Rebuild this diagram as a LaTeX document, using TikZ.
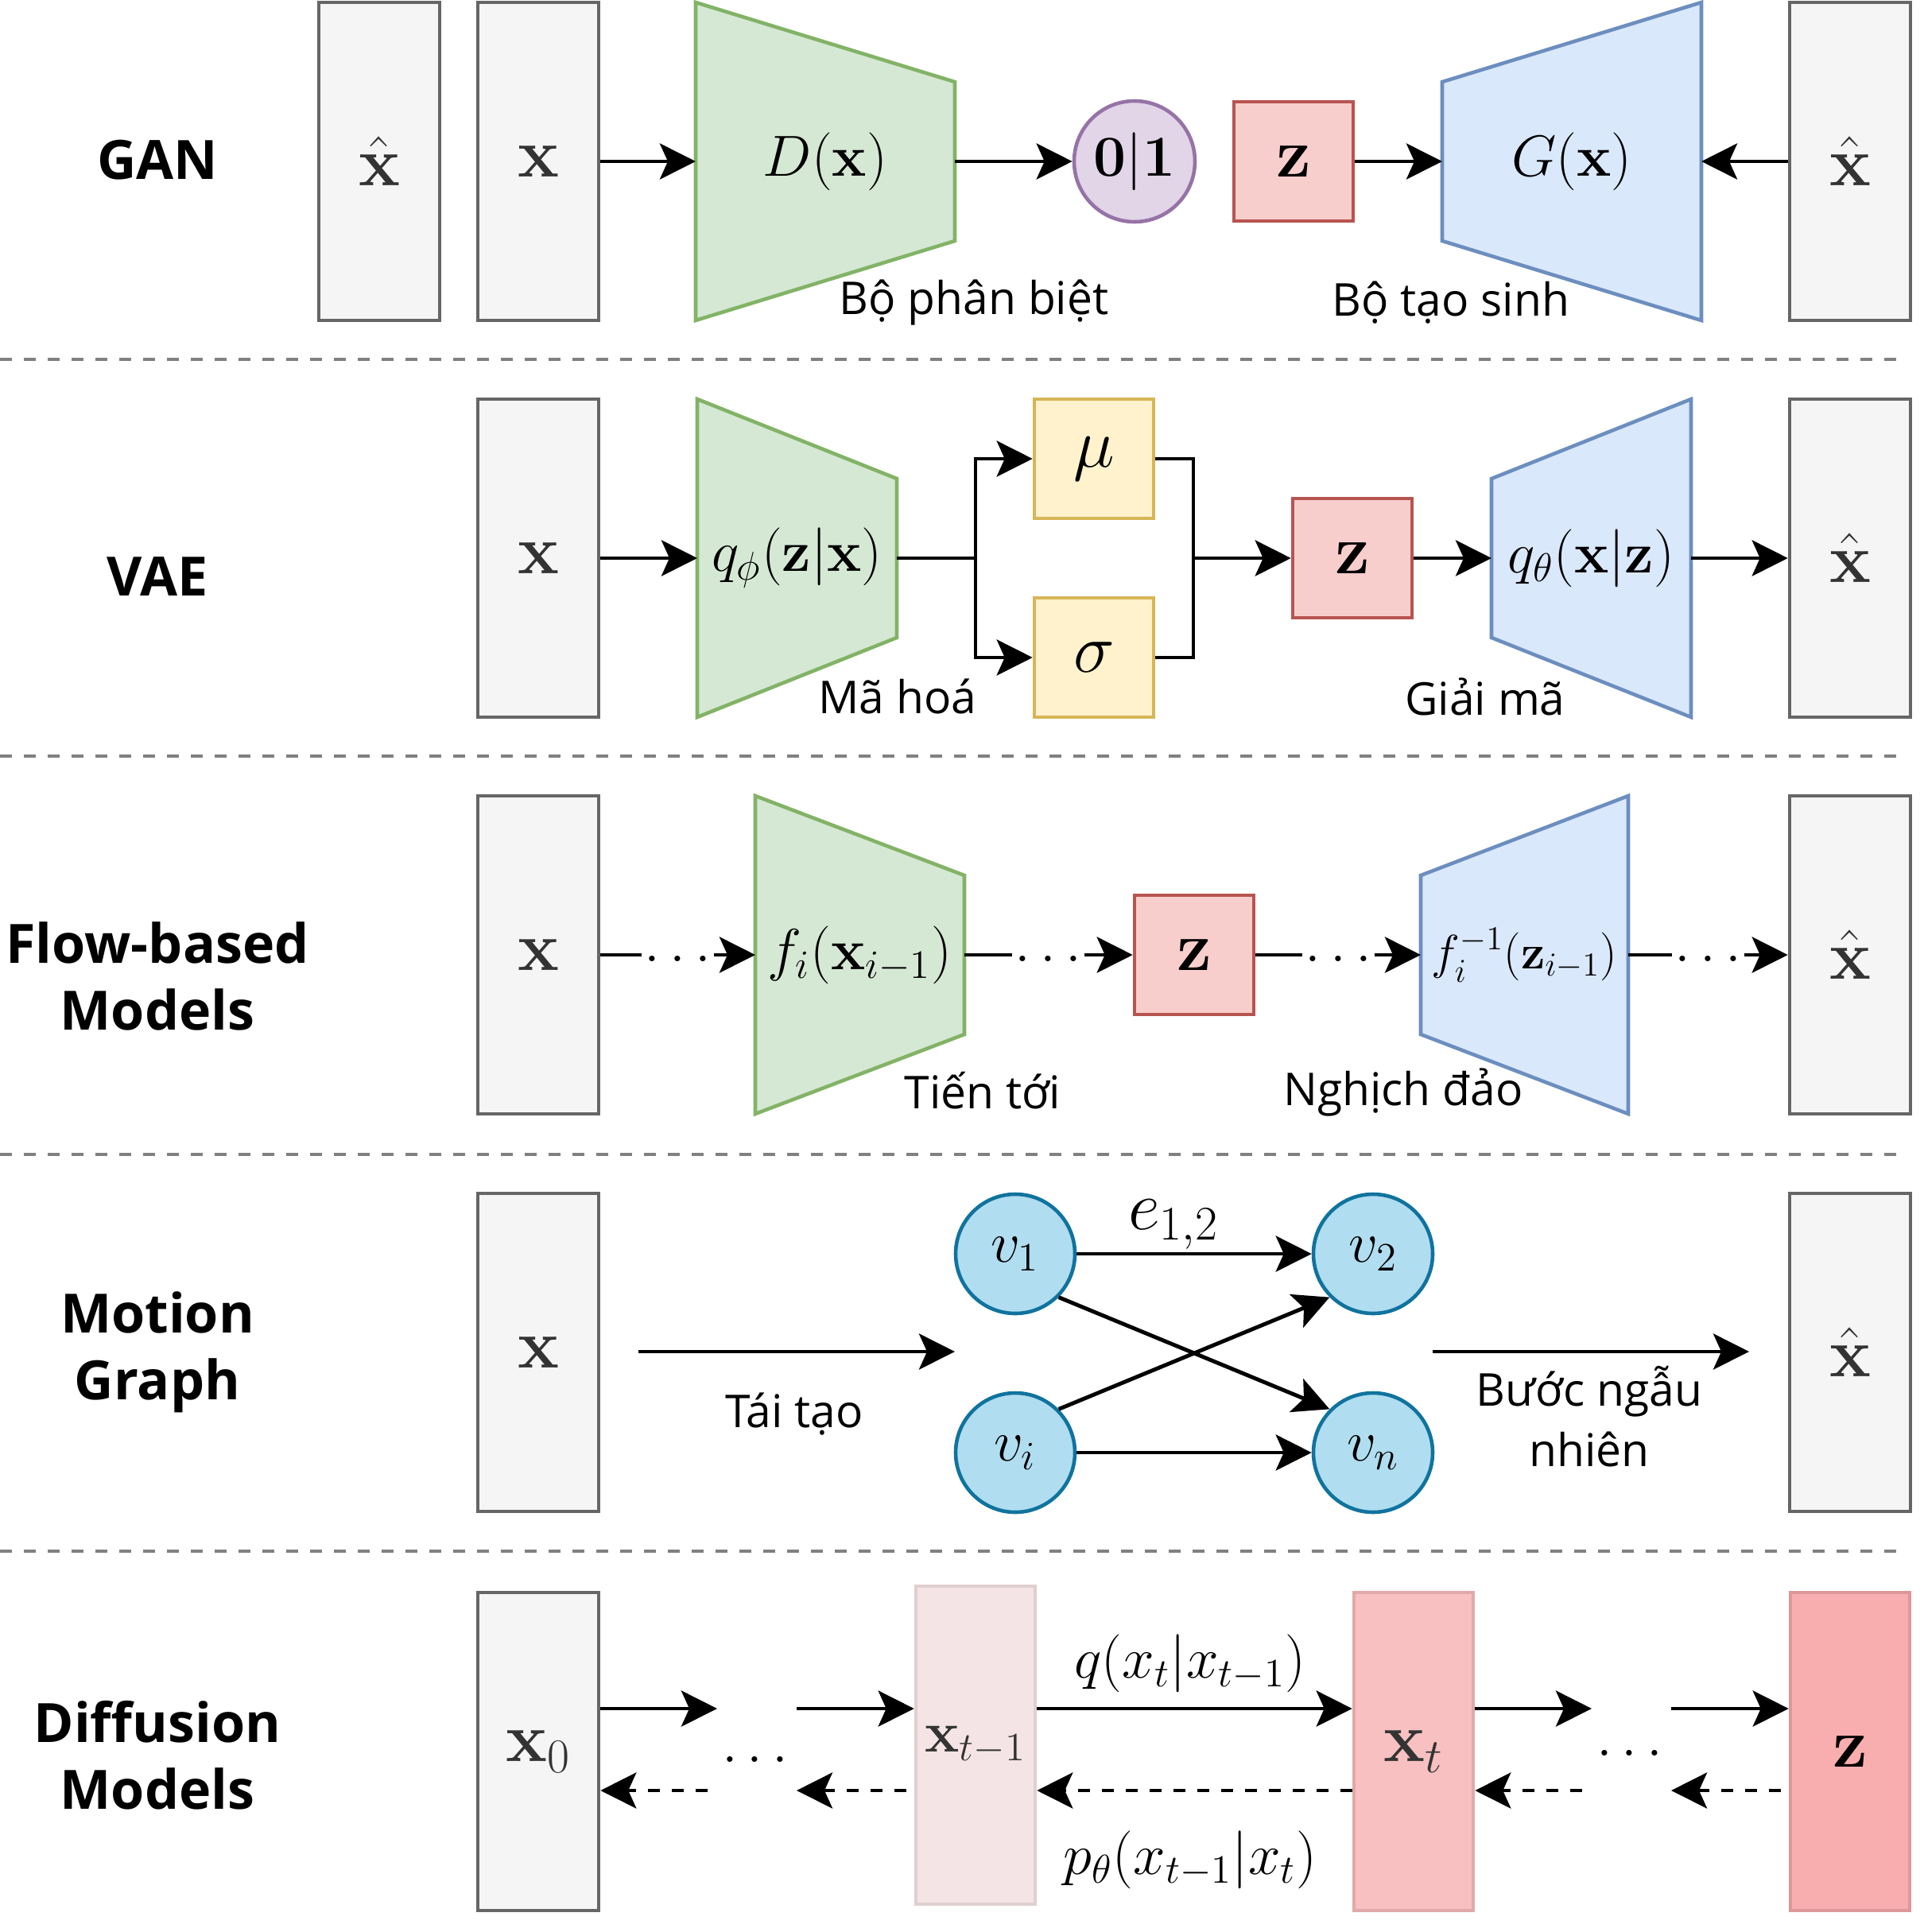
\documentclass[tikz,border=0pt]{standalone}
\usepackage{amsmath}
\usepackage[no-math]{fontspec}
\newfontfamily\labelsans{Open Sans}
\usepackage{tikz}
\usetikzlibrary{arrows.meta,positioning,calc,backgrounds}
\usepackage{xcolor}
\definecolor{grayFill}{HTML}{F5F5F5}
\definecolor{grayLine}{HTML}{666666}
\definecolor{grayText}{HTML}{333333}
\definecolor{encFill}{HTML}{D5E8D4}
\definecolor{encLine}{HTML}{82B366}
\definecolor{decFill}{HTML}{DAE8FC}
\definecolor{decLine}{HTML}{6C8EBF}
\definecolor{latFill}{HTML}{F8CECC}
\definecolor{latLine}{HTML}{B85450}
\definecolor{scoreFill}{HTML}{E1D5E7}
\definecolor{scoreLine}{HTML}{9673A6}
\definecolor{parFill}{HTML}{FFF2CC}
\definecolor{parLine}{HTML}{D6B656}
\definecolor{vertFill}{HTML}{B1DDF0}
\definecolor{vertLine}{HTML}{10739E}
\definecolor{stepAFill}{HTML}{F5E4E5}
\definecolor{stepALine}{HTML}{E0CFD1}
\definecolor{stepBFill}{HTML}{F8C0C0}
\definecolor{stepBLine}{HTML}{E0A9AA}
\definecolor{stepCFill}{HTML}{F8AEAE}
\definecolor{stepCLine}{HTML}{DC9899}
\definecolor{sepGray}{HTML}{808080}

\tikzset{
    % boxes and shapes
    databox/.style={rectangle, draw=grayLine, fill=grayFill, line width=1.3pt, minimum width=1.52cm, minimum height=4cm, inner sep=0pt, text=grayText, font=\fontsize{23.5}{28}\selectfont},
    stepbox/.style={rectangle, line width=1.3pt, minimum width=1.5cm, minimum height=4cm, inner sep=0pt, text=grayText, font=\fontsize{21}{25}\selectfont},
    latent/.style={rectangle, draw=latLine, fill=latFill, line width=1.3pt, minimum width=1.5cm, minimum height=1.5cm, inner sep=0pt, font=\fontsize{24}{28}\selectfont},
    param/.style={rectangle, draw=parLine, fill=parFill, line width=1.3pt, minimum width=1.5cm, minimum height=1.5cm, inner sep=0pt, font=\fontsize{26}{30}\selectfont},
    scorenode/.style={circle, draw=scoreLine, fill=scoreFill, line width=1.3pt, minimum size=1.52cm, inner sep=0pt, font=\fontsize{22.5}{26}\selectfont},
    vertex/.style={circle, draw=vertLine, fill=vertFill, line width=1.3pt, minimum size=1.5cm, inner sep=0pt, font=\fontsize{21.8}{26}\selectfont},
    trapnode/.style={rectangle, inner sep=0pt, outer sep=0pt, minimum height=4cm, font=\fontsize{22}{26}\selectfont},
    encshape/.style={fill=encFill, draw=encLine, line width=1.3pt},
    decshape/.style={fill=decFill, draw=decLine, line width=1.3pt},
    % texts
    rowlabel/.style={align=center, font=\labelsans\bfseries\fontsize{19.4}{24}\selectfont},
    sublabel/.style={align=center, font=\labelsans\fontsize{16.2}{21.6}\selectfont},
    mathlabel/.style={font=\fontsize{20}{24}\selectfont},
    % lines
    arrow/.style={-{Stealth[length=0.45cm, width=0.45cm, inset=0.1cm]}, line width=1.4pt},
    backarrow/.style={arrow, dash pattern=on 0.15cm off 0.15cm},
    sepline/.style={draw=sepGray, line width=1.4pt, dash pattern=on 0.15cm off 0.15cm}
}

\begin{document}
\begin{tikzpicture}[
    dotlbl/.style={midway, fill=white, inner sep=1pt, minimum height=0.3cm, yshift=-0.05cm, font=\fontsize{20}{24}\selectfont},
    dotnode/.style={inner sep=1pt, font=\fontsize{20}{24}\selectfont}
]
    \useasboundingbox (0,0) rectangle (24.2,-24.3);

    % GAN
    \node[rowlabel] (ganlbl) at (1.98,-2.01) {GAN};
    \node[databox] (ganfake) at (4.77,-2.03) {$\hat{\mathbf{x}}$};
    \node[databox] (ganx) at (6.77,-2.03) {$\mathbf{x}$};
    \node[trapnode, minimum width=3.26cm] (disc) at (10.38,-2.03) {$D(\mathbf{x})$};
    \node[scorenode] (score) at (14.27,-2.03) {$\mathbf{0}|\mathbf{1}$};
    \node[latent] (ganz) at (16.27,-2.03) {$\mathbf{z}$};
    \node[trapnode, minimum width=3.26cm] (gen) at (19.77,-2.03) {$G(\mathbf{x})$};
    \node[databox] (ganxhat) at (23.27,-2.03) {$\hat{\mathbf{x}}$};
    \node[sublabel] (disclbl) at (12.25,-3.81) {Bộ phân biệt};
    \node[sublabel] (genlbl) at (18.25,-3.81) {Bộ tạo sinh};

    \draw[arrow] (ganx) -- (disc);
    \draw[arrow] (disc) -- (score);
    \draw[arrow] (ganz) -- (gen);
    \draw[arrow] (ganxhat) -- (gen);

    \draw[sepline] (0,-4.52) -- (23.92,-4.52);

    % VAE
    \node[rowlabel] (vaelbl) at (1.98,-7.25) {VAE};
    \node[databox] (vaex) at (6.77,-7.02) {$\mathbf{x}$};
    \node[trapnode, minimum width=2.51cm] (enc) at (10.025,-7.02) {$q_\phi(\mathbf{z}|\mathbf{x})$};
    \node[param] (mu) at (13.76,-5.77) {$\mu$};
    \node[param] (sigma) at (13.76,-8.27) {$\sigma$};
    \node[latent] (vaez) at (17.01,-7.02) {$\mathbf{z}$};
    \node[trapnode, minimum width=2.51cm] (dec) at (20.015,-7.02) {$q_\theta(\mathbf{x}|\mathbf{z})$};
    \node[databox] (vaexhat) at (23.27,-7.02) {$\hat{\mathbf{x}}$};
    \node[sublabel] (enclbl) at (11.29,-8.76) {Mã hoá};
    \node[sublabel] (declbl) at (18.68,-8.76) {Giải mã};
    \coordinate (fork) at (12.27,-7.02);
    \coordinate (merge) at (15.01,-7.02);

    \draw[arrow] (vaex) -- (enc);
    \draw[line width=1.4pt] (enc) -- (fork);
    \draw[arrow] (fork) |- (mu);
    \draw[arrow] (fork) |- (sigma);
    \draw[line width=1.4pt] (mu) -| (merge);
    \draw[line width=1.4pt] (sigma) -| (merge);
    \draw[arrow] (merge) -- (vaez);
    \draw[arrow] (vaez) -- (dec);
    \draw[arrow] (dec) -- (vaexhat);

    \draw[sepline] (0,-9.51) -- (23.92,-9.51);

    % Flow-based models
    \node[rowlabel] (flowlbl) at (1.98,-12.28) {Flow-based\\Models};
    \node[databox] (flowx) at (6.77,-12.01) {$\mathbf{x}$};
    \node[trapnode, minimum width=2.63cm, font=\fontsize{21.2}{25}\selectfont] (fwd) at (10.815,-12.01) {$f_i(\mathbf{x}_{i-1})$};
    \node[latent] (flowz) at (15.02,-12.01) {$\mathbf{z}$};
    \node[trapnode, minimum width=2.61cm, font=\fontsize{16.5}{20}\selectfont] (inv) at (19.175,-12.01) {$f_i^{-1}(\mathbf{z}_{i-1})$};
    \node[databox] (flowxhat) at (23.27,-12.01) {$\hat{\mathbf{x}}$};
    \node[sublabel] (fwdlbl) at (12.36,-13.72) {Tiến tới};
    \node[sublabel] (invlbl) at (17.65,-13.74) {Nghịch đảo};

    \draw[arrow] (flowx) -- node[dotlbl] {$\ldotp\ldotp\ldotp$} (fwd);
    \draw[arrow] (fwd) -- node[dotlbl] {$\ldotp\ldotp\ldotp$} (flowz);
    \draw[arrow] (flowz) -- node[dotlbl] {$\ldotp\ldotp\ldotp$} (inv);
    \draw[arrow] (inv) -- node[dotlbl] {$\ldotp\ldotp\ldotp$} (flowxhat);

    \draw[sepline] (0,-14.52) -- (23.92,-14.52);

    % Motion graph
    \node[rowlabel] (motlbl) at (1.98,-17.01) {Motion\\Graph};
    \node[databox] (motx) at (6.77,-17.01) {$\mathbf{x}$};
    \node[vertex] (v1) at (12.77,-15.77) {$v_1$};
    \node[vertex] (v2) at (17.27,-15.77) {$v_2$};
    \node[vertex] (vi) at (12.77,-18.27) {$v_i$};
    \node[vertex] (vn) at (17.27,-18.27) {$v_n$};
    \node[databox] (motxhat) at (23.27,-17.01) {$\hat{\mathbf{x}}$};
    \node[font=\fontsize{25}{29}\selectfont] (e12) at (14.76,-15.40) {$e_{1,2}$};
    \node[sublabel] (reclbl) at (9.99,-17.79) {Tái tạo};
    \node[sublabel] (walklbl) at (19.99,-17.82) {Bước ngẫu\\nhiên};
    \coordinate (recin) at (8.03,-17.00);
    \coordinate (recout) at (12.01,-17.00);
    \coordinate (walkin) at (18.02,-17.00);
    \coordinate (walkout) at (22.00,-17.00);

    \draw[arrow] (recin) -- (recout);
    \draw[arrow] (v1) -- (v2);
    \draw[arrow] (v1.south east) -- (vn.north west);
    \draw[arrow] (vi.north east) -- (v2.south west);
    \draw[arrow] (vi) -- (vn);
    \draw[arrow] (walkin) -- (walkout);

    \draw[sepline] (0,-19.51) -- (23.92,-19.51);

    % Diffusion models
    \node[rowlabel] (difflbl) at (1.98,-22.08) {Diffusion\\Models};
    \node[databox] (x0) at (6.77,-22.03) {$\mathbf{x}_0$};
    \node[stepbox, draw=stepALine, fill=stepAFill] (xprev) at (12.27,-21.95) {$\mathbf{x}_{t-1}$};
    \node[stepbox, draw=stepBLine, fill=stepBFill, font=\fontsize{25}{29}\selectfont] (xt) at (17.78,-22.03) {$\mathbf{x}_t$};
    \node[stepbox, draw=stepCLine, fill=stepCFill, text=black, font=\fontsize{23}{27}\selectfont] (dz) at (23.27,-22.03) {$\mathbf{z}$};
    \node[dotnode] (dots1) at (9.50,-22.13) {$\ldotp\ldotp\ldotp$};
    \node[dotnode] (dots2) at (20.50,-22.05) {$\ldotp\ldotp\ldotp$};
    \node[mathlabel] (qlbl) at (14.97,-20.92) {$q(x_t|x_{t-1})$};
    \node[mathlabel] (plbl) at (14.97,-23.39) {$p_\theta(x_{t-1}|x_t)$};
    \coordinate (fa) at (9.02,-21.49);
    \coordinate (fb) at (10.02,-21.49);
    \coordinate (fd) at (20.02,-21.49);
    \coordinate (fe) at (21.02,-21.49);
    \coordinate (ba) at (8.90,-22.52);
    \coordinate (bb) at (11.40,-22.52);
    \coordinate (bc) at (10.02,-22.52);
    \coordinate (bd) at (19.90,-22.52);
    \coordinate (be) at (22.40,-22.52);
    \coordinate (bf) at (21.02,-22.52);

    \draw[arrow] (x0.east |- fa) -- (fa);
    \draw[arrow] (fb) -- (xprev.west |- fb);
    \draw[arrow] (xprev.east |- fb) -- (xt.west |- fb);
    \draw[arrow] (xt.east |- fd) -- (fd);
    \draw[arrow] (fe) -- (dz.west |- fe);
    \draw[backarrow] (ba) -- (x0.east |- ba);
    \draw[backarrow] (bb) -- (bc);
    \draw[backarrow] (xt.west |- bb) -- (xprev.east |- bb);
    \draw[backarrow] (bd) -- (xt.east |- bd);
    \draw[backarrow] (be) -- (bf);

    % trapezoid outlines behind their labels
    \begin{scope}[on background layer]
        \filldraw[encshape] (disc.north west) -- ($(disc.north east)!0.25!(disc.south east)$) -- ($(disc.north east)!0.75!(disc.south east)$) -- (disc.south west) -- cycle;
        \filldraw[decshape] ($(gen.north west)!0.25!(gen.south west)$) -- (gen.north east) -- (gen.south east) -- ($(gen.north west)!0.75!(gen.south west)$) -- cycle;
        \filldraw[encshape] (enc.north west) -- ($(enc.north east)!0.25!(enc.south east)$) -- ($(enc.north east)!0.75!(enc.south east)$) -- (enc.south west) -- cycle;
        \filldraw[decshape] ($(dec.north west)!0.25!(dec.south west)$) -- (dec.north east) -- (dec.south east) -- ($(dec.north west)!0.75!(dec.south west)$) -- cycle;
        \filldraw[encshape] (fwd.north west) -- ($(fwd.north east)!0.25!(fwd.south east)$) -- ($(fwd.north east)!0.75!(fwd.south east)$) -- (fwd.south west) -- cycle;
        \filldraw[decshape] ($(inv.north west)!0.25!(inv.south west)$) -- (inv.north east) -- (inv.south east) -- ($(inv.north west)!0.75!(inv.south west)$) -- cycle;
    \end{scope}

\end{tikzpicture}
\end{document}
